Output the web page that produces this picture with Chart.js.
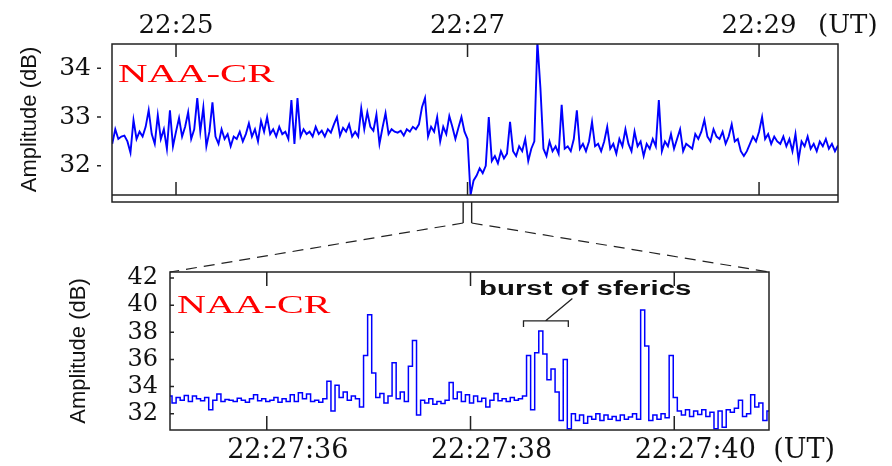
<!DOCTYPE html>
<html><head><meta charset="utf-8">
<script src="https://cdn.jsdelivr.net/npm/chart.js@4"></script>
<style>
html,body{margin:0;padding:0;background:#fff;}
#wrap{position:relative;width:892px;height:466px;overflow:hidden;background:#fff;}
#wrap canvas{position:absolute;left:0;top:0;}
</style></head><body>
<div id="wrap">
<canvas id="topPanel" width="892" height="466"></canvas>
<canvas id="bottomPanel" width="892" height="466"></canvas>
</div>
<script>
// ---------- data ----------
// top panel: samples every topStepSec seconds, starting topStartSec seconds after 22:24:00 UT
const topStartSec = 33.75;
const topStepSec = 1.25;
const topAmplitude = [
 32.45,32.75,32.55,32.6,32.62,32.5,32.27,32.94,32.55,32.7,
 32.6,32.8,33.14,32.65,32.45,33.04,32.55,32.75,32.35,33.14,
 32.4,32.7,32.98,32.6,32.8,33.1,32.55,32.75,33.39,32.7,
 33.2,32.4,32.7,33.3,32.6,32.45,32.75,32.55,32.65,32.4,
 32.6,32.55,32.7,32.5,32.65,32.87,32.6,32.75,32.5,32.92,
 32.7,33.0,32.65,32.75,32.6,32.8,32.65,32.7,32.55,33.35,
 32.45,33.39,32.6,32.75,32.65,32.7,32.6,32.8,32.65,32.72,
 32.6,32.75,32.68,32.85,33.0,32.62,32.78,32.7,32.85,32.6,
 32.7,32.6,33.18,32.75,33.1,32.8,32.72,33.05,32.45,32.78,
 33.08,32.65,32.75,32.7,32.68,32.72,32.62,32.75,32.7,32.8,
 32.75,32.85,33.2,33.39,32.6,32.8,32.7,33.0,32.5,32.8,
 32.65,33.02,32.8,32.55,32.78,33.0,32.7,32.55,31.4,31.7,
 31.8,31.95,31.85,32.0,33.0,32.1,32.2,32.05,32.3,32.15,
 32.25,32.9,32.3,32.2,32.4,32.3,32.55,32.1,32.35,32.5,
 34.55,33.6,32.35,32.2,32.5,32.3,32.4,32.25,33.25,32.35,
 32.4,32.3,32.55,33.14,32.35,32.45,32.3,32.5,32.9,32.4,
 32.45,32.3,32.5,32.8,32.35,32.45,32.25,32.55,32.4,32.75,
 32.45,32.3,32.7,32.4,32.5,32.2,32.45,32.35,32.55,32.4,
 33.35,32.3,32.5,32.4,32.65,32.35,32.55,32.75,32.3,32.45,
 32.4,32.35,32.65,32.55,32.7,32.94,32.6,32.5,32.75,32.6,
 32.55,32.7,32.45,32.6,32.85,32.5,32.55,32.3,32.2,32.3,
 32.45,32.6,32.5,32.7,33.0,32.55,32.65,32.45,32.6,32.5,
 32.45,32.6,32.4,32.55,32.3,32.65,32.12,32.5,32.4,32.6,
 32.35,32.45,32.3,32.5,32.4,32.55,32.35,32.45,32.3,32.42
];
const topTickValues = [60, 180, 300];           // seconds after 22:24:00
const topTickLabels = ['22:25', '22:27', '22:29'];
const topYTicks = [32, 33, 34];
const topXRange = [33.65, 332.5];
const topYRange = [31.4, 34.5];
const zoomWindowTop = [178.2, 181.7];           // marked interval on the top time axis

// bottom panel: samples every bottomStepSec seconds, starting bottomStartSec seconds after 22:27:00 UT
const bottomStartSec = 35.05;
const bottomStepSec = 0.04;
const bottomAmplitude = [
 33.3,32.8,33.2,33.0,33.35,32.9,33.3,33.1,32.95,33.2,
 32.3,33.0,33.45,32.9,33.05,33.0,32.9,33.15,33.0,32.85,
 33.1,33.4,32.95,33.1,32.9,33.0,33.2,32.85,33.1,32.9,
 33.4,32.9,33.55,33.1,33.45,32.9,33.0,32.85,33.1,34.4,
 32.2,34.1,33.2,33.6,33.0,33.3,33.1,32.5,36.3,39.3,
 35.0,33.2,33.5,32.8,33.3,35.75,33.1,33.6,32.9,35.5,
 37.4,31.9,33.0,32.8,33.1,32.7,32.9,32.75,33.0,34.3,
 33.1,33.6,32.9,33.4,32.8,33.3,32.9,33.15,32.5,33.0,
 33.5,32.95,33.1,32.9,33.2,33.0,33.1,33.3,36.3,32.3,
 36.5,38.1,36.4,34.5,35.3,33.6,31.5,36.0,30.9,32.0,
 31.5,31.9,31.3,31.8,31.6,32.0,31.5,31.9,31.6,31.8,
 31.5,31.9,31.6,31.75,32.0,31.6,39.65,37.0,31.5,31.9,
 31.6,32.0,31.7,36.3,33.2,32.2,31.9,32.3,31.8,32.2,
 31.95,32.3,31.8,32.1,30.9,32.2,31.0,32.3,32.1,32.4,
 33.0,31.8,32.0,33.4,32.5,32.8,31.5,32.2
];
const bottomTickValues = [36, 38, 40];          // seconds after 22:27:00
const bottomTickLabels = ['22:27:36', '22:27:38', '22:27:40'];
const bottomYTicks = [32, 34, 36, 38, 40, 42];
const bottomXRange = [35.05, 40.93];
const bottomYRange = [30.8, 42.45];
const burstBracket = {from: 38.52, to: 38.96, level: 38.84, tail: 38.4, mid: 38.735, pointerX: 39.0, pointerY: 40.5};

const stationLabel = 'NAA-CR';
const yTitle = 'Amplitude (dB)';
const burstText = 'burst of sferics';

// ---------- plugins ----------
const panelDecor = {
  id: 'panelDecor',
  afterDraw(chart, _args, o) {
    const ctx = chart.ctx, a = chart.chartArea, xs = chart.scales.x, ys = chart.scales.y;
    ctx.save();
    ctx.strokeStyle = o.frameColor;
    ctx.lineWidth = o.frameWidth;
    const fb = a.bottom + o.strip;
    ctx.strokeRect(a.left, a.top, a.right - a.left, fb - a.top);
    ctx.beginPath();
    if (o.strip) { ctx.moveTo(a.left, a.bottom); ctx.lineTo(a.right, a.bottom); }
    xs.ticks.forEach(t => {
      const px = xs.getPixelForValue(t.value);
      ctx.moveTo(px, a.top); ctx.lineTo(px, a.top + o.xTickTop);
      ctx.moveTo(px, a.bottom); ctx.lineTo(px, a.bottom - o.xTickBottom);
    });
    ys.ticks.forEach(t => {
      const py = ys.getPixelForValue(t.value);
      if (o.yDash) { ctx.moveTo(a.left - o.yDash[0], py); ctx.lineTo(a.left - o.yDash[1], py); }
      if (o.yInner) { ctx.moveTo(a.left, py); ctx.lineTo(a.left + o.yInner, py); }
    });
    ctx.stroke();
    // station label
    ctx.save();
    ctx.fillStyle = o.labelColor;
    ctx.font = o.labelFont;
    ctx.textBaseline = 'alphabetic';
    ctx.textAlign = 'left';
    ctx.translate(a.left + o.labelDx, a.top + o.labelDy);
    ctx.scale(o.labelStretch, 1);
    ctx.fillText(stationLabel, 0, 0);
    ctx.restore();
    // (UT)
    const last = xs.ticks[xs.ticks.length - 1];
    ctx.fillStyle = o.utColor;
    ctx.font = o.utFont;
    ctx.textBaseline = 'middle';
    ctx.textAlign = 'left';
    const uy = o.utTop ? a.top - o.utDy : a.bottom + o.utDy;
    ctx.fillText('(UT)', xs.getPixelForValue(last.value) + o.utDx, uy);
    ctx.restore();
  }
};

const zoomDecor = {
  id: 'zoomDecor',
  afterDraw(chart) {
    const ctx = chart.ctx, a = chart.chartArea, xs = chart.scales.x, ys = chart.scales.y;
    const ta = topChart.chartArea, txs = topChart.scales.x;
    const m0 = txs.getPixelForValue(zoomWindowTop[0]);
    const m1 = txs.getPixelForValue(zoomWindowTop[1]);
    const y0 = ta.bottom + 7, y1 = ta.bottom + 28;
    ctx.save();
    ctx.strokeStyle = '#222';
    ctx.lineWidth = 1.4;
    ctx.beginPath();
    ctx.moveTo(m0, y0); ctx.lineTo(m0, y1);
    ctx.moveTo(m1, y0); ctx.lineTo(m1, y1);
    ctx.stroke();
    ctx.setLineDash([11, 7]);
    ctx.lineWidth = 1.2;
    ctx.beginPath();
    ctx.moveTo(m0, y1); ctx.lineTo(a.left, a.top);
    ctx.moveTo(m1, y1); ctx.lineTo(a.right, a.top);
    ctx.stroke();
    ctx.setLineDash([]);
    // bracket over the burst
    const bx0 = xs.getPixelForValue(burstBracket.from), bx1 = xs.getPixelForValue(burstBracket.to);
    const by = ys.getPixelForValue(burstBracket.level), bt = ys.getPixelForValue(burstBracket.tail);
    const bm = xs.getPixelForValue(burstBracket.mid);
    const lx = xs.getPixelForValue(burstBracket.pointerX), ly = ys.getPixelForValue(burstBracket.pointerY);
    ctx.lineWidth = 1.3;
    ctx.beginPath();
    ctx.moveTo(bx0, bt); ctx.lineTo(bx0, by); ctx.lineTo(bx1, by); ctx.lineTo(bx1, bt);
    ctx.moveTo(bm, by); ctx.lineTo(lx, ly);
    ctx.stroke();
    ctx.fillStyle = '#111';
    ctx.font = 'bold 20px "Liberation Sans"';
    ctx.textBaseline = 'alphabetic';
    ctx.textAlign = 'left';
    ctx.translate(a.left + 309, a.top + 23);
    ctx.scale(1.47, 1);
    ctx.fillText(burstText, 0, 0);
    ctx.restore();
  }
};

// ---------- charts ----------
const topPoints = topAmplitude.map((v, i) => ({x: topStartSec + i * topStepSec, y: v}));
const bottomPoints = bottomAmplitude.map((v, i) => ({x: bottomStartSec + i * bottomStepSec, y: v}));

const tickFont = (size) => ({family: '"DejaVu Serif"', size: size, lineHeight: 1.2});

const topChart = new Chart(document.getElementById('topPanel'), {
  type: 'line',
  data: {datasets: [{data: topPoints, borderColor: '#0000ff', borderWidth: 1.9, pointRadius: 0, tension: 0, fill: false}]},
  options: {
    responsive: false, animation: false, devicePixelRatio: 1,
    layout: {padding: {left: 0, right: 54, top: 0, bottom: 271}},
    plugins: {
      legend: {display: false}, tooltip: {enabled: false},
      panelDecor: {frameColor: '#222', frameWidth: 1.5, strip: 7, xTickTop: 13, xTickBottom: 13,
        yDash: [15, 11], yInner: 0, labelColor: '#ff0000', labelFont: '26px "Liberation Serif"',
        labelDx: 6, labelDy: 38, labelStretch: 1.57, utFont: '26px "DejaVu Serif"', utColor: '#111',
        utTop: true, utDy: 17.6, utDx: 59}
    },
    scales: {
      x: {type: 'linear', position: 'top', min: topXRange[0], max: topXRange[1],
        afterBuildTicks: s => { s.ticks = topTickValues.map(v => ({value: v})); },
        afterFit: s => { s.height = 44; },
        grid: {display: false, drawTicks: false}, border: {display: false},
        ticks: {autoSkip: false, maxRotation: 0, padding: 2, color: '#111', font: tickFont(26),
          callback: (v, i) => topTickLabels[i]}},
      y: {type: 'linear', min: topYRange[0], max: topYRange[1],
        afterBuildTicks: s => { s.ticks = topYTicks.map(v => ({value: v})); },
        afterFit: s => { s.width = 112; },
        grid: {display: false, drawTicks: false}, border: {display: false},
        ticks: {autoSkip: false, padding: 21, color: '#111', font: tickFont(25), callback: v => String(v)},
        title: {display: true, text: yTitle, color: '#111', font: {family: '"Liberation Sans"', size: 22},
          padding: {top: 17, bottom: 0}}}
    }
  },
  plugins: [panelDecor]
});

const bottomChart = new Chart(document.getElementById('bottomPanel'), {
  type: 'line',
  data: {datasets: [{data: bottomPoints, borderColor: '#0000ff', borderWidth: 1.5, pointRadius: 0, stepped: 'middle', fill: false}]},
  options: {
    responsive: false, animation: false, devicePixelRatio: 1,
    layout: {padding: {left: 0, right: 123, top: 272, bottom: 0}},
    plugins: {
      legend: {display: false}, tooltip: {enabled: false},
      panelDecor: {frameColor: '#222', frameWidth: 1.5, strip: 0, xTickTop: 14, xTickBottom: 14,
        yDash: null, yInner: 4, labelColor: '#ff0000', labelFont: '26px "Liberation Serif"',
        labelDx: 7, labelDy: 41, labelStretch: 1.54, utFont: '27px "DejaVu Serif"', utColor: '#111',
        utTop: false, utDy: 21, utDx: 99}
    },
    scales: {
      x: {type: 'linear', position: 'bottom', min: bottomXRange[0], max: bottomXRange[1],
        afterBuildTicks: s => { s.ticks = bottomTickValues.map(v => ({value: v})); },
        afterFit: s => { s.height = 36; },
        grid: {display: false, drawTicks: false}, border: {display: false},
        ticks: {autoSkip: false, maxRotation: 0, padding: 5, labelOffset: 21, color: '#111', font: tickFont(27),
          callback: (v, i) => bottomTickLabels[i]}},
      y: {type: 'linear', min: bottomYRange[0], max: bottomYRange[1],
        afterBuildTicks: s => { s.ticks = bottomYTicks.map(v => ({value: v})); },
        afterFit: s => { s.width = 170; },
        grid: {display: false, drawTicks: false}, border: {display: false},
        ticks: {autoSkip: false, padding: 12, color: '#111', font: {family: '"DejaVu Serif"', size: 24, lineHeight: 1.0}, callback: v => String(v)},
        title: {display: true, text: yTitle, color: '#111', font: {family: '"Liberation Sans"', size: 22},
          padding: {top: 66, bottom: 0}}}
    }
  },
  plugins: [panelDecor, zoomDecor]
});
</script>
</body></html>
